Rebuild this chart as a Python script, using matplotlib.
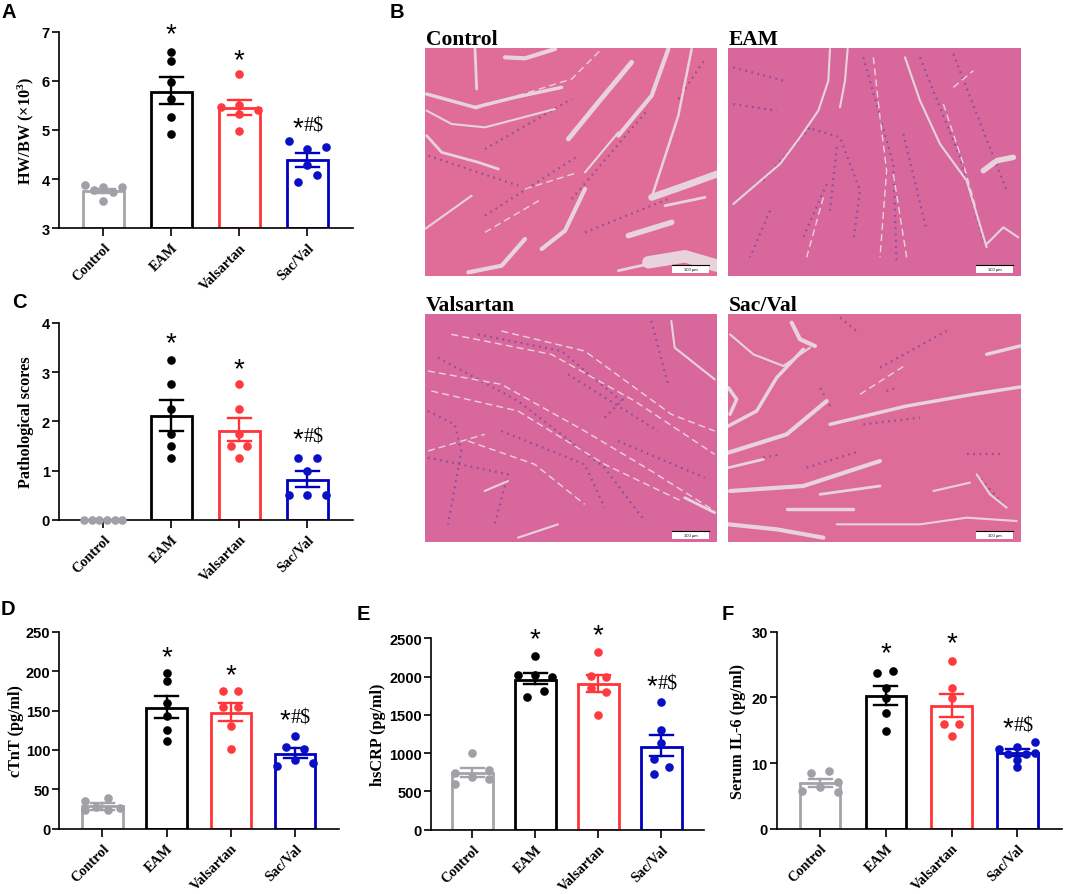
import matplotlib
matplotlib.use("Agg")
import matplotlib.pyplot as plt
from matplotlib.patches import Rectangle
from matplotlib.transforms import ScaledTranslation

plt.rcParams['mathtext.default'] = 'regular'

SANS = 'Liberation Sans'
SERIF = 'Liberation Serif'

W, H = 1065, 895

groups = ['Control', 'EAM', 'Valsartan', 'Sac/Val']
colors = ['#A3A3A9', '#000000', '#FF3338', '#0000BE']
dot_colors = ['#A0A0A6', '#000000', '#FF3B40', '#0A10C4']

# panel A
a_means = [3.75, 5.78, 5.45, 4.38]
a_err_hi = [3.80, 6.07, 5.62, 4.54]
a_err_lo = [3.71, 5.53, 5.31, 4.25]
a_vals = [[3.89, 3.77, 3.85, 3.74, 3.84, 3.55],
          [6.58, 6.41, 5.98, 5.63, 5.26, 4.91],
          [6.13, 5.47, 5.51, 5.40, 5.33, 4.97],
          [4.77, 4.66, 4.61, 4.29, 4.08, 3.94]]
a_jitter = [[-.275, -.137, 0, .142, .279, 0],
            [0, 0, 0, 0, 0, 0],
            [0, -.275, 0, .279, 0, 0],
            [-.275, .279, 0, 0, .142, -.137]]
a_marks = [7.03, 6.50, 5.12]

# panel C
c_means = [0, 2.10, 1.80, 0.81]
c_err_hi = [0, 2.43, 2.06, 0.99]
c_err_lo = [0, 1.80, 1.60, 0.67]
c_vals = [[0, 0, 0, 0, 0, 0],
          [3.25, 2.75, 2.25, 1.75, 1.5, 1.25],
          [2.75, 2.25, 1.75, 1.5, 1.5, 1.25],
          [1.25, 1.25, 1.0, 0.5, 0.5, 0.5]]
c_jitter = [[-.28, -.17, -.06, .06, .17, .28],
            [0, 0, 0, 0, 0, 0],
            [0, 0, 0, -.118, .118, 0],
            [-.137, .137, 0, -.275, 0, .275]]
c_marks = [3.66, 3.15, 1.72]

# panel D
d_means = [28.3, 152.7, 147, 95]
d_err_hi = [32.6, 168, 160, 102]
d_err_lo = [24, 140, 137, 90]
d_vals = [[35.5, 39, 28, 24, 24, 26],
          [197.5, 187, 159.5, 142.5, 125, 111.7],
          [175, 175, 154, 154, 130, 101],
          [117.6, 104, 101.5, 87, 79.5, 84]]
d_jitter = [[-.275, .088, -.093, -.275, .088, .27],
            [0, 0, 0, 0, 0, 0],
            [-.119, .114, -.119, .114, 0, 0],
            [0, -.14, .13, 0, -.28, .27]]
d_marks = [222.5, 199.7, 142.5]

# panel E
e_means = [736, 1955, 1899, 1085]
e_err_hi = [801, 2051, 2025, 1237]
e_err_lo = [684, 1899, 1799, 958]
e_vals = [[997, 740, 784, 684, 662, 601],
          [2265, 2016, 2016, 1990, 1816, 1733],
          [2326, 2012, 1990, 1847, 1794, 1503],
          [1664, 1307, 1128, 919, 819, 727]]
e_jitter = [[0, -.27, .27, 0, .27, -.27],
            [0, -.27, 0, .27, .143, -.138],
            [0, -.12, .12, -.12, .12, 0],
            [0, 0, 0, -.12, .12, -.12]]
e_marks = [2535, 2587, 1925]

# panel F
f_means = [6.9, 20.15, 18.63, 11.57]
f_err_hi = [7.56, 21.7, 20.5, 12.18]
f_err_lo = [6.4, 18.83, 17.0, 11.1]
f_vals = [[8.43, 8.78, 7.06, 6.29, 5.79, 5.63],
          [23.7, 23.96, 21.4, 19.85, 17.66, 14.92],
          [25.5, 21.4, 19.85, 15.9, 15.9, 14.06],
          [13.25, 12.08, 12.39, 11.57, 11.37, 11.37, 10.5, 9.39]]
f_jitter = [[-.137, .142, .279, 0, -.27, .279],
            [-.127, .117, 0, 0, 0, 0],
            [0, 0, 0, -.12, .12, 0],
            [.274, -.28, 0, .274, -.137, .137, 0, 0]]
f_marks = [27.3, 28.9, 15.9]

# histology photographs: tissue colour, then the main gaps and nuclei runs traced by eye.
# traces are in 3x crop coordinates, crop_origin turns them back into figure pixels
photo_boxes = {'Control': (425, 717, 49, 277), 'EAM': (728, 1021, 49, 277),
               'Valsartan': (425, 717, 315, 543), 'Sac/Val': (728, 1021, 315, 543)}
photo_colors = {'Control': '#DF6D97', 'EAM': '#D8689C', 'Valsartan': '#D8689C', 'Sac/Val': '#DE6C98'}
crop_origin = {'Control': (385, 0), 'EAM': (720, 25), 'Valsartan': (418, 292), 'Sac/Val': (720, 292)}

gaps = {
    'Control': [
        (2, [(270, 150), (275, 270)]), (3, [(360, 175), (420, 178), (510, 150)]),
        (2.5, [(125, 285), (270, 325), (390, 295), (530, 265)]), (1, [(270, 330), (560, 240), (650, 150)]),
        (1.5, [(125, 335), (200, 375), (300, 385), (510, 330)]), (2, [(125, 410), (170, 460), (280, 490), (340, 510)]),
        (3.5, [(550, 420), (640, 310), (740, 190)]), (3, [(700, 410), (800, 290), (850, 150)]),
        (5, [(800, 595), (900, 560), (996, 525)]), (1.8, [(800, 595), (880, 350), (920, 150)]),
        (3, [(470, 750), (540, 695), (600, 570)]), (3, [(250, 820), (350, 800), (420, 720)]),
        (1.5, [(120, 690), (260, 590)]), (4, [(730, 710), (860, 670)]),
        (9, [(790, 790), (900, 772), (996, 800)]), (2, [(700, 815), (790, 795)]),
        (2, [(840, 620), (960, 595)]), (1.5, [(600, 520), (700, 400)]),
        (1, [(300, 700), (470, 600)]), (1, [(420, 570), (580, 520)]),
    ],
    'EAM': [
        (1.5, [(330, 75), (325, 170), (295, 260), (240, 340), (180, 420), (40, 540)]),
        (1.5, [(383, 75), (375, 170), (360, 250)]),
        (1.5, [(555, 100), (600, 230), (660, 360), (740, 470), (800, 670)]),
        (1, [(460, 100), (480, 280), (500, 440), (480, 700)]),
        (1, [(670, 240), (730, 420), (770, 560)]),
        (4, [(790, 440), (830, 410), (880, 400)]), (1.5, [(800, 660), (850, 610), (895, 640)]),
        (1, [(700, 190), (760, 140)]), (1, [(520, 450), (560, 700)]), (1, [(310, 520), (260, 700)]),
    ],
    'Valsartan': [
        (1, [(30, 240), (250, 280), (500, 420), (700, 540), (890, 660)]),
        (1, [(100, 130), (400, 190), (650, 330), (890, 490)]),
        (1, [(40, 300), (300, 360), (560, 520), (790, 630)]),
        (1, [(250, 120), (500, 180), (760, 370), (890, 420)]),
        (1, [(150, 450), (350, 520), (500, 640)]),
        (1.5, [(760, 90), (770, 170), (890, 265)]), (1.5, [(300, 740), (420, 700)]),
        (2, [(800, 620), (890, 665)]), (1, [(30, 480), (200, 430)]), (1.5, [(200, 600), (270, 570)]),
    ],
    'Sac/Val': [
        (3, [(215, 95), (240, 145), (285, 165)]), (2.5, [(25, 405), (110, 360), (170, 260), (250, 175)]),
        (3, [(25, 485), (200, 430), (320, 330)]), (1.5, [(30, 130), (100, 190), (190, 225), (270, 170)]),
        (2.5, [(25, 290), (50, 325), (30, 370)]), (3, [(30, 600), (250, 585), (480, 510)]),
        (2.5, [(330, 400), (560, 345), (760, 310), (900, 288)]), (2, [(25, 530), (130, 505)]),
        (2, [(300, 610), (480, 585)]), (2.5, [(200, 655), (400, 655)]), (3, [(25, 700), (170, 715), (310, 740)]),
        (1.5, [(350, 700), (600, 700), (740, 680), (890, 690)]), (1.5, [(640, 600), (750, 575)]),
        (1.5, [(770, 550), (810, 610), (860, 650)]), (2.5, [(800, 190), (900, 165)]), (1, [(420, 310), (560, 220)]),
    ],
}
nuclei = {
    'Control': [[(130, 470), (400, 560)], [(300, 450), (560, 300)], [(560, 600), (790, 330)],
                [(300, 650), (580, 470)], [(600, 700), (850, 600)], [(880, 300), (960, 180)]],
    'EAM': [[(260, 310), (360, 340), (420, 500), (400, 650)], [(40, 130), (190, 170)],
            [(600, 100), (720, 400), (790, 650)], [(430, 100), (520, 420), (530, 720)],
            [(550, 330), (620, 620)], [(130, 470), (270, 310)], [(320, 480), (250, 640)],
            [(150, 560), (90, 700)], [(700, 90), (860, 500)], [(40, 240), (170, 260)], [(350, 370), (330, 560)]],
    'Valsartan': [[(30, 360), (110, 400), (130, 480), (90, 700)], [(60, 200), (300, 330), (560, 530), (680, 690)],
                  [(180, 130), (430, 180), (610, 330)], [(700, 90), (750, 280)],
                  [(250, 420), (500, 520), (560, 650)], [(30, 500), (270, 550), (230, 700)],
                  [(450, 250), (720, 420)], [(560, 380), (620, 320)], [(600, 450), (860, 560)]],
    'Sac/Val': [[(430, 400), (600, 380)], [(260, 530), (420, 480)], [(330, 345), (300, 290)],
                [(500, 300), (530, 290)], [(360, 80), (410, 120)], [(740, 490), (850, 490)],
                [(770, 550), (850, 640)], [(480, 230), (680, 120)], [(130, 500), (180, 490)]],
}

fig = plt.figure(figsize=(W / 100, H / 100), dpi=100)


def px_axes(left, right, top, bottom):
    return fig.add_axes([left / W, 1 - bottom / H, (right - left) / W, (bottom - top) / H])


def fig_text(x, y, s, **kw):
    fig.text(x / W, 1 - y / H, s, **kw)


def bar_panel(box, first_tick, spacing, ylim, yticks, ylabel, label_x, means, hi, lo, vals, jitter, marks):
    left, right, top, bottom = box
    ax = px_axes(left, right, top, bottom)
    ax.patch.set_alpha(0)
    ax.set_xlim((left - first_tick) / spacing, (right - first_tick) / spacing)
    ax.set_ylim(*ylim)
    width = 40.5 / spacing
    for i in range(4):
        ax.bar(i, means[i] - ylim[0], width=width, bottom=ylim[0], fill=False,
               edgecolor=colors[i], linewidth=2.0, zorder=2)
        if hi[i] > lo[i]:
            ax.plot([i, i], [lo[i], hi[i]], color=colors[i], lw=1.7, zorder=3)
            for v in (lo[i], hi[i]):
                ax.plot([i - 11.5 / spacing, i + 11.5 / spacing], [v, v], color=colors[i], lw=1.7, zorder=3)
        xs = [i + j for j in jitter[i]]
        ax.plot(xs, vals[i], 'o', color=dot_colors[i], ms=6.2, mew=0, zorder=4, clip_on=False)

    for i, y in zip([1, 2], marks[:2]):
        ax.annotate('*', (i, y), xytext=(0, -7.9), textcoords='offset points', ha='center', va='baseline',
                    family=SANS, fontsize=20, color='black', annotation_clip=False)
    ax.annotate('*', (3, marks[2]), xytext=(-3.2, -7.9), textcoords='offset points', ha='right', va='baseline',
                family=SANS, fontsize=20, color='black', annotation_clip=False)
    ax.annotate('#$', (3, marks[2]), xytext=(-3.0, -4.5), textcoords='offset points', ha='left', va='baseline',
                family=SERIF, fontsize=14.5, color='black', annotation_clip=False)

    for side in ('top', 'right'):
        ax.spines[side].set_visible(False)
    for side in ('left', 'bottom'):
        ax.spines[side].set_linewidth(1.2)
    ax.set_xticks(range(4))
    ax.set_xticklabels(groups, rotation=45, ha='right', rotation_mode='anchor',
                       family=SERIF, fontweight='bold', fontsize=10.3)
    nudge = ScaledTranslation(-2 / 72, -2 / 72, fig.dpi_scale_trans)
    for lab in ax.get_xticklabels():
        lab.set_transform(lab.get_transform() + nudge)
    ax.set_yticks(yticks)
    ax.set_yticklabels([str(t) for t in yticks], family=SANS, fontweight='bold', fontsize=10.5)
    ax.tick_params(axis='y', length=5, width=1.2, pad=1.5)
    ax.tick_params(axis='x', length=6, width=1.2, pad=3)
    ax.set_ylabel(ylabel, family=SERIF, fontweight='bold', fontsize=11.7)
    ax.yaxis.set_label_coords((label_x + 9.5 - left) / (right - left), 0.5)
    return ax


bar_panel((58.7, 353, 32.7, 229.3), 103.3, 68, (3, 7), [3, 4, 5, 6, 7], 'HW/BW (×10$^{3}$)', 26,
          a_means, a_err_hi, a_err_lo, a_vals, a_jitter, a_marks)
bar_panel((58.7, 353, 324, 520.7), 103.3, 68, (0, 4), [0, 1, 2, 3, 4], 'Pathological scores', 24,
          c_means, c_err_hi, c_err_lo, c_vals, c_jitter, c_marks)
bar_panel((59.3, 339, 632.7, 829.7), 102.3, 64.3, (0, 250), [0, 50, 100, 150, 200, 250], 'cTnT (pg/ml)', 14,
          d_means, d_err_hi, d_err_lo, d_vals, d_jitter, d_marks)
bar_panel((431, 704, 639.3, 830.7), 472.3, 63, (0, 2500), [0, 500, 1000, 1500, 2000, 2500], 'hsCRP (pg/ml)', 377,
          e_means, e_err_hi, e_err_lo, e_vals, e_jitter, e_marks)
bar_panel((776.7, 1062, 632.7, 829.7), 820, 65.8, (0, 30), [0, 10, 20, 30], 'Serum IL-6 (pg/ml)', 736,
          f_means, f_err_hi, f_err_lo, f_vals, f_jitter, f_marks)

for name, (l, r, t, b) in photo_boxes.items():
    ox, oy = crop_origin[name]
    ax = px_axes(l, r, t, b)
    ax.set_xlim(l, r)
    ax.set_ylim(b, t)
    ax.axis('off')
    ax.add_patch(Rectangle((l, t), r - l, b - t, color=photo_colors[name], lw=0))
    for path in nuclei[name]:
        ax.plot([ox + p[0] / 3 for p in path], [oy + p[1] / 3 for p in path], color='#4F3A9E',
                lw=1.6, ls=(0, (0.8, 2.0)), alpha=0.55)
    for lw, path in gaps[name]:
        style = (0, (5, 3)) if lw <= 1 else '-'
        ax.plot([ox + p[0] / 3 for p in path], [oy + p[1] / 3 for p in path], color='#E8D3DC',
                lw=lw, ls=style, solid_capstyle='round', solid_joinstyle='round')
    ax.add_patch(Rectangle((r - 45, b - 11), 37, 8, facecolor='white', edgecolor='none', zorder=5))
    ax.plot([r - 45, r - 8], [b - 11, b - 11], color='black', lw=0.8, zorder=6)
    ax.text(r - 26.5, b - 6.5, '100 µm', fontsize=3, ha='center', va='center', family=SANS, zorder=6)
    fig_text(l + 1, t - 4, name, family=SERIF, fontweight='bold', fontsize=15.5, ha='left', va='baseline')

for letter, x, y in [('A', 2, 18), ('B', 390, 18), ('C', 12, 308), ('D', 1, 615), ('E', 357, 620), ('F', 722, 620)]:
    fig_text(x, y, letter, family=SANS, fontweight='bold', fontsize=14.5, ha='left', va='baseline')

fig.savefig('out.png', dpi=100)
